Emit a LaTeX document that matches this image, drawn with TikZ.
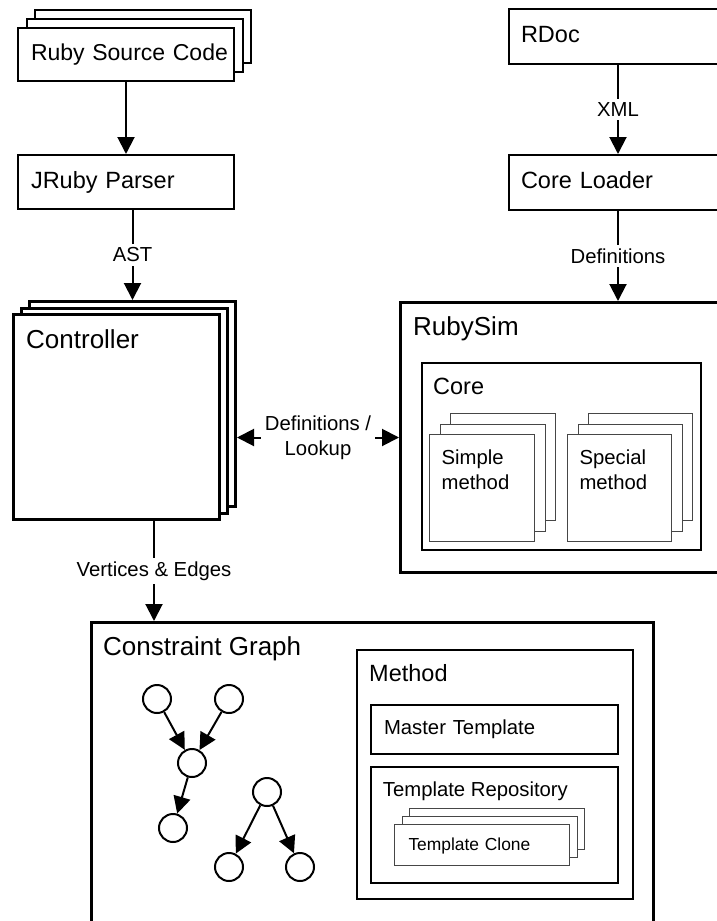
\documentclass[tikz,border=0pt]{standalone}
\usepackage{fontspec}
\setmainfont{Liberation Sans}
\usetikzlibrary{positioning, calc, arrows.meta}
\definecolor{rsInk}{RGB}{0, 0, 0}
\definecolor{rsThin}{RGB}{70, 70, 70}
\tikzset{
    base/.style={
        font=\fontsize{23.5}{28}\selectfont,
        text=rsInk,
        align=left
    },
    box/.style={
        base,
        rectangle,
        draw=rsInk,
        line width=2pt,
        fill=white,
        anchor=north west,
        inner sep=0pt,
        text height=17pt,
        text depth=5pt
    },
    heavybox/.style={
        box,
        line width=3pt
    },
    thinbox/.style={
        box,
        line width=1pt,
        draw=rsThin
    },
    caption/.style={
        base,
        anchor=base west,
        inner sep=0pt
    },
    bigcaption/.style={
        caption,
        font=\fontsize{26}{31}\selectfont
    },
    smallcaption/.style={
        caption,
        font=\fontsize{20.3}{24.3}\selectfont
    },
    vertex/.style={
        circle,
        draw=rsInk,
        line width=2pt,
        fill=white,
        minimum size=28pt,
        inner sep=0pt
    },
    flow/.style={
        -{Triangle[length=17pt, width=17pt]},
        line width=2pt,
        color=rsInk
    },
    flowboth/.style={
        flow,
        {Triangle[length=17pt, width=17pt]}-{Triangle[length=17pt, width=17pt]}
    },
    edgetext/.style={
        font=\fontsize{20.3}{25}\selectfont,
        text=rsInk,
        fill=white,
        align=center,
        inner sep=4pt
    }
}

\begin{document}
\begin{tikzpicture}[x=1pt, y=-1pt]
  \useasboundingbox (0,0) rectangle (716,921);

  % Source code and parser
  \node[box, minimum width=216pt, minimum height=53pt] (rsc3) at (34,9) {};
  \node[box, minimum width=216pt, minimum height=53pt] (rsc2) at ([shift={(-8.5,9)}]rsc3.north west) {};
  \node[box, minimum width=216pt, minimum height=53pt, text width=190pt, font=\fontsize{23}{28}\selectfont] (rsc) at ([shift={(-8.5,9)}]rsc2.north west) {\mbox{Ruby Source Code}};
  \node[box, minimum width=216pt, minimum height=54pt, text width=190pt] (parser) at (17,154) {JRuby Parser};
  \draw[flow] (rsc.south) -- (parser.north);

  % RDoc and core loader
  \node[box, minimum width=218pt, minimum height=55pt, text width=194pt] (rdoc) at (508,8) {RDoc};
  \node[box, minimum width=218pt, minimum height=55pt, text width=194pt] (loader) at (508,154) {Core Loader};
  \draw[flow] (rdoc.south) -- (loader.north) node[edgetext, midway] (xml) {XML};

  % Controller
  \node[heavybox, minimum width=206pt, minimum height=205pt] (ctrl3) at (28,300) {};
  \node[heavybox, minimum width=206pt, minimum height=205pt] (ctrl2) at ([shift={(-8,6.5)}]ctrl3.north west) {};
  \node[heavybox, minimum width=206pt, minimum height=205pt] (ctrl) at ([shift={(-8,6.5)}]ctrl2.north west) {};
  \node[bigcaption] (ctrltitle) at ([shift={(14,35)}]ctrl.north west) {Controller};
  \draw[flow] (parser.south -| ctrl3.north) -- (ctrl3.north) node[edgetext, midway] (ast) {AST};

  % RubySim
  \node[heavybox, minimum width=340pt, minimum height=270pt] (sim) at (399,301) {};
  \node[bigcaption] (simtitle) at ([shift={(14,34)}]sim.north west) {RubySim};
  \node[box, minimum width=279pt, minimum height=187pt] (core) at (421,362) {};
  \node[caption] (coretitle) at ([shift={(12,32)}]core.north west) {Core};

  \node[thinbox, minimum width=105pt, minimum height=107pt] (simple3) at (450,413) {};
  \node[thinbox, minimum width=105pt, minimum height=107pt] (simple2) at ([shift={(-10.5,10.5)}]simple3.north west) {};
  \node[thinbox, minimum width=105pt, minimum height=107pt] (simple) at ([shift={(-10.5,10.5)}]simple2.north west) {};
  \node[smallcaption] (simpletitle) at ([shift={(12.4,55)}]simple.north west) {Simple\\method};

  \node[thinbox, minimum width=104pt, minimum height=107pt] (special3) at (588,413) {};
  \node[thinbox, minimum width=104pt, minimum height=107pt] (special2) at ([shift={(-10.5,10.5)}]special3.north west) {};
  \node[thinbox, minimum width=104pt, minimum height=107pt] (special) at ([shift={(-10.5,10.5)}]special2.north west) {};
  \node[smallcaption] (specialtitle) at ([shift={(12.3,55)}]special.north west) {Special\\method};

  \draw[flow] (loader.south) -- (loader.south |- sim.north) node[edgetext, midway] (defs) {Definitions};
  \draw[flowboth] (ctrl3.east |- sim.west) -- (sim.west) node[edgetext, midway] (lookup) {Definitions /\\Lookup};

  % Constraint graph
  \node[heavybox, minimum width=562pt, minimum height=340pt] (graph) at (90,621) {};
  \node[bigcaption] (graphtitle) at ([shift={(13,34)}]graph.north west) {Constraint Graph};
  \coordinate (vetop) at ([xshift=142pt]ctrl.south west);
  \draw[flow] (vetop) -- (vetop |- graph.north) node[edgetext, midway] (vedges) {Vertices \& Edges};

  \node[vertex] (v1) at (157,699) {};
  \node[vertex] (v2) at (229,699) {};
  \node[vertex] (v3) at (192,763) {};
  \node[vertex] (v4) at (173,828) {};
  \node[vertex] (v5) at (267,792) {};
  \node[vertex] (v6) at (229,867) {};
  \node[vertex] (v7) at (300,867) {};
  \draw[flow] (v1) -- (v3);
  \draw[flow] (v2) -- (v3);
  \draw[flow] (v3) -- (v4);
  \draw[flow] (v5) -- (v6);
  \draw[flow] (v5) -- (v7);

  % Method
  \node[box, minimum width=276pt, minimum height=249pt] (method) at (356,649) {};
  \node[caption] (methodtitle) at ([shift={(13,32.4)}]method.north west) {Method};
  \node[box, minimum width=247pt, minimum height=49pt, text width=221pt, text height=14.6pt, text depth=4.5pt, font=\fontsize{20.3}{24.3}\selectfont] (master) at (370,704) {Master Template};
  \node[box, minimum width=247pt, minimum height=116pt] (repo) at (370,766) {};
  \node[smallcaption] (repotitle) at ([shift={(12.7,30.7)}]repo.north west) {Template Repository};

  \node[thinbox, minimum width=175pt, minimum height=41pt] (clone3) at (409,808) {};
  \node[thinbox, minimum width=175pt, minimum height=41pt] (clone2) at ([shift={(-7.5,8)}]clone3.north west) {};
  \node[thinbox, minimum width=175pt, minimum height=41pt, text width=147pt, text height=12.5pt, text depth=1pt, font=\fontsize{17.4}{21}\selectfont] (clone) at ([shift={(-7.5,8)}]clone2.north west) {Template Clone};

\end{tikzpicture}
\end{document}
